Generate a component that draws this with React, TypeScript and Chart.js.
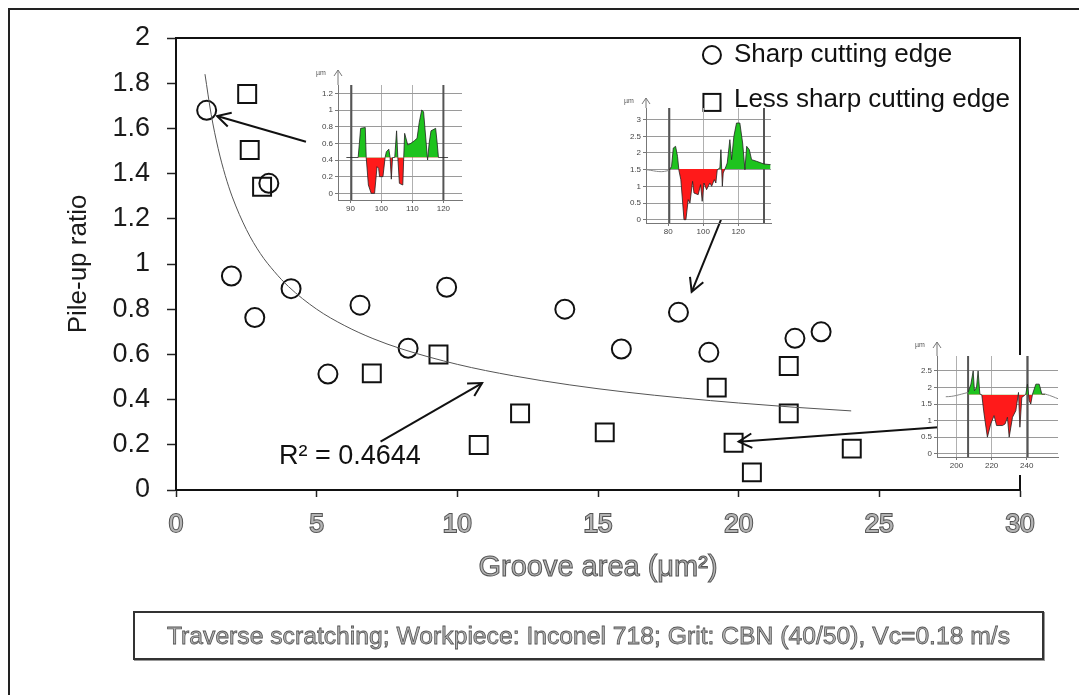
import React, { useEffect, useRef } from "react";
import { Chart, registerables } from "chart.js";
Chart.register(...registerables);

const FONT = "'Liberation Sans', Arial, sans-serif";

// ---------------- main chart data ----------------
const xTicks = [0, 5, 10, 15, 20, 25, 30];
const yTicks = [0, 0.2, 0.4, 0.6, 0.8, 1, 1.2, 1.4, 1.6, 1.8, 2];

const sharpX = [1.09, 3.3, 1.97, 2.8, 4.09, 6.54, 5.4, 8.25, 9.62, 13.82, 15.83, 17.86, 18.94, 22.0, 22.93];
const sharpY = [1.68, 1.357, 0.947, 0.763, 0.891, 0.818, 0.513, 0.627, 0.897, 0.8, 0.624, 0.786, 0.609, 0.671, 0.7];

const lessX = [2.53, 2.62, 3.06, 6.96, 9.33, 10.76, 12.23, 15.24, 19.22, 19.82, 20.47, 21.78, 21.78, 24.02];
const lessY = [1.752, 1.504, 1.342, 0.516, 0.6, 0.199, 0.339, 0.255, 0.453, 0.209, 0.078, 0.549, 0.339, 0.183];

const trendX = [1.03, 1.25, 1.5, 1.75, 2, 2.5, 3, 3.5, 4, 5, 6, 7, 8, 10, 12, 14, 16, 18, 20, 22, 24];
const trendY = [1.84, 1.662, 1.51, 1.392, 1.297, 1.153, 1.046, 0.966, 0.9, 0.8, 0.727, 0.67, 0.625, 0.556, 0.505, 0.465, 0.433, 0.407, 0.385, 0.366, 0.35];

const seriesNames = ["Sharp cutting edge", "Less sharp cutting edge"];
const xTitle = "Groove area (\u03bcm\u00b2)";
const yTitle = "Pile-up ratio";
const r2Text = "R\u00b2 = 0.4644";
const caption = "Traverse scratching; Workpiece: Inconel 718; Grit: CBN (40/50), Vc=0.18 m/s";

// annotation anchors (data coordinates)
const arrowFromX = [4.62, 19.37, 7.27, 27.34];
const arrowFromY = [1.541, 1.195, 0.214, 0.28];
const arrowToX = [1.46, 18.33, 10.88, 20.0];
const arrowToY = [1.655, 0.877, 0.473, 0.214];
const r2At = [3.66, 0.146];
const legendAtX = 19.05;
const legendAtY = [1.925, 1.715];

// ---------------- inset profile data ----------------
const in1X = [88.7, 92.5, 92.9, 93.3, 94.8, 95.1, 95.8, 96.7, 97.8, 98.6, 99.1, 99.4, 100.5, 101.2, 101.6, 102.4, 102.8, 103.2, 103.6, 104.3, 104.9, 105.3, 105.8, 106.9, 107.2, 107.5, 108.5, 109.5, 110.6, 111.5, 112.2, 113.0, 113.6, 114.9, 115.4, 116.0, 117.5, 118.0, 118.4, 121.5];
const in1Y = [0.43, 0.43, 0.6, 0.78, 0.79, 0.43, 0.1, 0.0, 0.0, 0.32, 0.3, 0.2, 0.2, 0.43, 0.5, 0.53, 0.43, 0.17, 0.43, 0.43, 0.75, 0.43, 0.12, 0.1, 0.43, 0.72, 0.58, 0.6, 0.63, 0.66, 0.85, 1.0, 0.98, 0.4, 0.6, 0.75, 0.78, 0.6, 0.43, 0.43];
const in1Base = 0.43;
const in1XTicks = [90, 100, 110, 120];
const in1YTicks = [0, 0.2, 0.4, 0.6, 0.8, 1, 1.2];
const in1Marks = [90.3, 120];

const in2X = [80.6, 81.9, 82.9, 84.2, 85.3, 86.1, 87.2, 89.0, 90.1, 91.4, 92.4, 93.9, 94.7, 97.1, 98.5, 99.4, 100.4, 101.9, 103.8, 104.8, 106.3, 107.2, 108.0, 109.5, 110.1, 110.9, 111.4, 113.0, 113.7, 115.2, 116.2, 117.5, 119.0, 120.9, 122.5, 123.8, 124.8, 126.3, 127.6, 130.5, 134.7, 138.5];
const in2Y = [1.48, 1.6, 2.15, 2.2, 1.9, 1.48, 1.2, 0.0, 0.0, 0.6, 0.5, 1.15, 0.8, 0.75, 1.05, 0.55, 1.1, 0.9, 1.1, 1.0, 1.2, 1.1, 1.5, 1.55, 2.1, 1.0, 1.4, 1.6, 1.7, 2.4, 1.8, 2.5, 2.9, 2.9, 2.3, 1.5, 2.2, 2.1, 1.8, 1.75, 1.67, 1.65];
const in2SideX = [67.3, 70, 73.3, 76, 78, 80.6];
const in2SideY = [1.5, 1.48, 1.45, 1.44, 1.45, 1.48];
const in2Base = 1.52;
const in2XTicks = [80, 100, 120];
const in2YTicks = [0, 0.5, 1, 1.5, 2, 2.5, 3];
const in2Marks = [80.6, 134.7];

const in3X = [206.6, 208.2, 209.5, 210.2, 211.4, 212.3, 213.3, 214.4, 215.7, 217.6, 219.5, 221.4, 222.8, 226.2, 227.7, 229.0, 230.0, 231.9, 233.8, 235.3, 236.1, 237.2, 238.5, 239.5, 240.4, 241.4, 242.3, 243.3, 245.2, 247.1, 248.6, 250.5];
const in3Y = [1.85, 2.1, 2.5, 1.9, 2.0, 2.5, 1.8, 1.78, 1.2, 0.5, 0.9, 1.15, 0.85, 0.85, 0.9, 1.1, 0.5, 1.1, 1.3, 1.85, 0.8, 1.7, 1.75, 1.8, 2.1, 1.6, 1.5, 1.8, 2.1, 2.1, 1.8, 1.8];
const in3SideLX = [193.9, 197, 200, 203, 206.6];
const in3SideLY = [1.72, 1.73, 1.76, 1.8, 1.85];
const in3SideRX = [250.5, 253, 255, 257.8];
const in3SideRY = [1.8, 1.76, 1.72, 1.66];
const in3Base = 1.78;
const in3XTicks = [200, 220, 240];
const in3YTicks = [0, 0.5, 1, 1.5, 2, 2.5];
const in3Marks = [206.6, 240.5];

const pts = (xs: number[], ys: number[]) => xs.map((v, i) => ({ x: v, y: ys[i] }));
const fmt = (v: number) => String(Number(Number(v).toFixed(1)));

function drawArrow(ctx: CanvasRenderingContext2D, x0: number, y0: number, x1: number, y1: number, head: number) {
  ctx.beginPath();
  ctx.moveTo(x0, y0);
  ctx.lineTo(x1, y1);
  ctx.stroke();
  const a = Math.atan2(y1 - y0, x1 - x0);
  ctx.beginPath();
  ctx.moveTo(x1 - head * Math.cos(a - 0.5), y1 - head * Math.sin(a - 0.5));
  ctx.lineTo(x1, y1);
  ctx.lineTo(x1 - head * Math.cos(a + 0.5), y1 - head * Math.sin(a + 0.5));
  ctx.stroke();
}

const mainDeco = {
  id: "mainDeco",
  afterDatasetsDraw(chart: any) {
    const { ctx, chartArea: a, scales } = chart;
    const x = scales.x, y = scales.y;
    ctx.save();
    // top and right frame of plot area
    ctx.strokeStyle = "#111";
    ctx.lineWidth = 2;
    ctx.beginPath();
    ctx.moveTo(a.left, a.top);
    ctx.lineTo(a.right, a.top);
    ctx.lineTo(a.right, a.bottom);
    ctx.stroke();
    // arrows
    for (let i = 0; i < arrowFromX.length; i++) {
      drawArrow(ctx, x.getPixelForValue(arrowFromX[i]), y.getPixelForValue(arrowFromY[i]),
        x.getPixelForValue(arrowToX[i]), y.getPixelForValue(arrowToY[i]), 15);
    }
    // R2 label
    ctx.fillStyle = "#111";
    ctx.font = `27px ${FONT}`;
    ctx.textAlign = "left";
    ctx.textBaseline = "middle";
    ctx.fillText(r2Text, x.getPixelForValue(r2At[0]), y.getPixelForValue(r2At[1]));
    // legend
    const lx = x.getPixelForValue(legendAtX);
    const ly0 = y.getPixelForValue(legendAtY[0]);
    const ly1 = y.getPixelForValue(legendAtY[1]);
    ctx.lineWidth = 2;
    ctx.beginPath();
    ctx.arc(lx, ly0, 9, 0, Math.PI * 2);
    ctx.stroke();
    ctx.strokeRect(lx - 8.5, ly1 - 8.5, 17, 17);
    ctx.font = `26px ${FONT}`;
    ctx.fillText(seriesNames[0], lx + 22, ly0);
    ctx.fillText(seriesNames[1], lx + 22, ly1 - 3);
    // x title (outlined grey text)
    ctx.textAlign = "center";
    ctx.font = `29px ${FONT}`;
    const tx = (a.left + a.right) / 2;
    const ty = a.bottom + 78;
    ctx.fillStyle = "#b4b4b4";
    ctx.fillText(xTitle, tx, ty);
    ctx.strokeStyle = "#555";
    ctx.lineWidth = 1;
    ctx.strokeText(xTitle, tx, ty);
    ctx.restore();
  },
};

function MainChart() {
  const ref = useRef<HTMLCanvasElement>(null);
  useEffect(() => {
    const chart = new Chart(ref.current as HTMLCanvasElement, {
      type: "scatter",
      data: {
        datasets: [
          {
            label: "trend",
            data: pts(trendX, trendY),
            showLine: true,
            borderColor: "#555",
            borderWidth: 1,
            pointRadius: 0,
            cubicInterpolationMode: "monotone",
          } as any,
          {
            label: seriesNames[0],
            data: pts(sharpX, sharpY),
            pointStyle: "circle",
            pointRadius: 9.5,
            borderWidth: 2,
            borderColor: "#111",
            backgroundColor: "rgba(0,0,0,0)",
          },
          {
            label: seriesNames[1],
            data: pts(lessX, lessY),
            pointStyle: "rect",
            pointRadius: 12.7,
            borderWidth: 2,
            borderColor: "#111",
            backgroundColor: "rgba(0,0,0,0)",
          },
        ],
      },
      options: {
        animation: false,
        responsive: false,
        events: [],
        layout: { padding: { left: 0, top: 38, right: 59, bottom: 0 } },
        plugins: { legend: { display: false }, tooltip: { enabled: false } },
        scales: {
          x: {
            type: "linear",
            min: 0,
            max: 30,
            afterBuildTicks: (s: any) => { s.ticks = xTicks.map((v) => ({ value: v })); },
            afterFit: (s: any) => { s.height = 205; },
            grid: { drawOnChartArea: false, tickLength: 7, tickColor: "#222", tickWidth: 1.5 },
            border: { display: true, color: "#111", width: 2 },
            ticks: {
              font: { size: 26, family: FONT },
              color: "#b4b4b4",
              textStrokeColor: "#555",
              textStrokeWidth: 2,
              padding: 12,
              maxRotation: 0,
              autoSkip: false,
              callback: (v: any) => String(v),
            } as any,
          },
          y: {
            min: 0,
            max: 2,
            afterBuildTicks: (s: any) => { s.ticks = yTicks.map((v) => ({ value: v })); },
            afterFit: (s: any) => { s.width = 176; },
            grid: { drawOnChartArea: false, tickLength: 9, tickColor: "#222", tickWidth: 1.5 },
            border: { display: true, color: "#111", width: 2 },
            ticks: {
              font: { size: 27, family: FONT },
              color: "#1a1a1a",
              padding: 17,
              autoSkip: false,
              callback: (v: any) => fmt(v),
            },
            title: {
              display: true,
              text: yTitle,
              font: { size: 26, family: FONT },
              color: "#1a1a1a",
              padding: { top: 63, bottom: 0 },
            },
          },
        },
      },
      plugins: [mainDeco],
    });
    return () => chart.destroy();
  }, []);
  return <canvas ref={ref} width={1079} height={695} style={{ position: "absolute", left: 0, top: 0 }} />;
}

type InsetSpec = {
  box: { left: number; top: number; width: number; height: number };
  area: { l: number; t: number; r: number; b: number };
  arrowTop: number;
  white: boolean;
  xr: [number, number];
  yr: [number, number];
  xs: number[];
  ys: number[];
  base: number;
  sides: [number[], number[]][];
  xt: number[];
  yt: number[];
  marks: number[];
};

const INSETS: InsetSpec[] = [
  {
    box: { left: 306, top: 62, width: 160, height: 152 },
    area: { l: 32, t: 23, r: 156, b: 138 },
    arrowTop: 8, white: false,
    xr: [86, 126], yr: [-0.08, 1.3],
    xs: in1X, ys: in1Y, base: in1Base, sides: [],
    xt: in1XTicks, yt: in1YTicks, marks: in1Marks,
  },
  {
    box: { left: 615, top: 90, width: 157, height: 150 },
    area: { l: 31, t: 18, r: 156, b: 133 },
    arrowTop: 8, white: false,
    xr: [67.3, 138.7], yr: [-0.1, 3.35],
    xs: in2X, ys: in2Y, base: in2Base, sides: [[in2SideX, in2SideY]],
    xt: in2XTicks, yt: in2YTicks, marks: in2Marks,
  },
  {
    box: { left: 903, top: 336, width: 176, height: 139 },
    area: { l: 34, t: 20, r: 155, b: 121 },
    arrowTop: 6, white: true,
    xr: [188.9, 257.8], yr: [-0.1, 2.95],
    xs: in3X, ys: in3Y, base: in3Base, sides: [[in3SideLX, in3SideLY], [in3SideRX, in3SideRY]],
    xt: in3XTicks, yt: in3YTicks, marks: in3Marks,
  },
];

function Inset({ spec }: { spec: InsetSpec }) {
  const ref = useRef<HTMLCanvasElement>(null);
  useEffect(() => {
    const deco = {
      id: "insetDeco",
      beforeDraw(chart: any) {
        if (!spec.white) return;
        const { ctx, chartArea: a } = chart;
        ctx.save();
        ctx.fillStyle = "#fff";
        ctx.fillRect(a.left, a.top - 1, chart.width - a.left, chart.height - a.top + 1);
        ctx.restore();
      },
      beforeDatasetsDraw(chart: any) {
        const { ctx, chartArea: a, scales } = chart;
        ctx.save();
        ctx.strokeStyle = "#555";
        ctx.lineWidth = 2;
        for (const m of spec.marks) {
          const px = scales.x.getPixelForValue(m);
          ctx.beginPath();
          ctx.moveTo(px, a.top);
          ctx.lineTo(px, a.bottom);
          ctx.stroke();
        }
        ctx.restore();
      },
      afterDraw(chart: any) {
        const { ctx, chartArea: a } = chart;
        ctx.save();
        ctx.strokeStyle = "#777";
        ctx.lineWidth = 1;
        const ax = a.left;
        ctx.beginPath();
        ctx.moveTo(ax, a.top);
        ctx.lineTo(ax, spec.arrowTop);
        ctx.stroke();
        ctx.beginPath();
        ctx.moveTo(ax - 4, spec.arrowTop + 6);
        ctx.lineTo(ax, spec.arrowTop);
        ctx.lineTo(ax + 4, spec.arrowTop + 6);
        ctx.stroke();
        ctx.fillStyle = "#555";
        ctx.font = `7px ${FONT}`;
        ctx.textAlign = "center";
        ctx.textBaseline = "middle";
        ctx.fillText("\u00b5m", ax - 17, spec.arrowTop + 3);
        ctx.restore();
      },
    };
    const datasets: any[] = [
      {
        data: pts(spec.xs, spec.ys),
        borderColor: "#222",
        borderWidth: 0.8,
        pointRadius: 0,
        tension: 0,
        fill: { target: { value: spec.base }, above: "#1ec31e", below: "#ff1a1a" },
      },
      ...spec.sides.map(([sx, sy]) => ({
        data: pts(sx, sy),
        borderColor: "#888",
        borderWidth: 1,
        pointRadius: 0,
        tension: 0.3,
        fill: false,
      })),
    ];
    const chart = new Chart(ref.current as HTMLCanvasElement, {
      type: "line",
      data: { datasets },
      options: {
        animation: false,
        responsive: false,
        events: [],
        layout: { padding: { left: 0, top: spec.area.t, right: spec.box.width - spec.area.r, bottom: 0 } },
        plugins: { legend: { display: false }, tooltip: { enabled: false } },
        scales: {
          x: {
            type: "linear",
            min: spec.xr[0],
            max: spec.xr[1],
            afterBuildTicks: (s: any) => { s.ticks = spec.xt.map((v) => ({ value: v })); },
            afterFit: (s: any) => { s.height = spec.box.height - spec.area.b; },
            grid: { color: "#b0b0b0", lineWidth: 1, tickLength: 3, tickColor: "#777" },
            border: { display: true, color: "#777", width: 1 },
            ticks: { font: { size: 8, family: FONT }, color: "#444", padding: 1, maxRotation: 0, autoSkip: false, callback: (v: any) => String(v) },
          },
          y: {
            min: spec.yr[0],
            max: spec.yr[1],
            afterBuildTicks: (s: any) => { s.ticks = spec.yt.map((v) => ({ value: v })); },
            afterFit: (s: any) => { s.width = spec.area.l; },
            grid: { color: "#9a9a9a", lineWidth: 1, tickLength: 3, tickColor: "#777" },
            border: { display: true, color: "#777", width: 1 },
            ticks: { font: { size: 8, family: FONT }, color: "#444", padding: 2, autoSkip: false, callback: (v: any) => fmt(v) },
          },
        },
      },
      plugins: [deco],
    });
    return () => chart.destroy();
  }, [spec]);
  return (
    <canvas
      ref={ref}
      width={spec.box.width}
      height={spec.box.height}
      style={{ position: "absolute", left: spec.box.left, top: spec.box.top }}
    />
  );
}

export default function App() {
  return (
    <div style={{ position: "fixed", left: 0, top: 0, width: 1079, height: 695, overflow: "hidden", background: "#fff" }}>
      <div
        style={{
          position: "absolute",
          left: 8,
          top: 8,
          width: 1100,
          height: 720,
          borderLeft: "2px solid #222",
          borderTop: "2px solid #222",
        }}
      />
      <MainChart />
      {INSETS.map((s, i) => (
        <Inset key={i} spec={s} />
      ))}
      <div
        style={{
          position: "absolute",
          left: 133,
          top: 611,
          width: 911,
          height: 49,
          boxSizing: "border-box",
          border: "2px solid #333",
          boxShadow: "1px 1px 0 #999",
          display: "flex",
          alignItems: "center",
          justifyContent: "center",
          fontFamily: FONT,
          fontSize: 24.7,
          color: "#b4b4b4",
          WebkitTextStroke: "0.8px #555",
          whiteSpace: "nowrap",
        } as any}
      >
        {caption}
      </div>
    </div>
  );
}
